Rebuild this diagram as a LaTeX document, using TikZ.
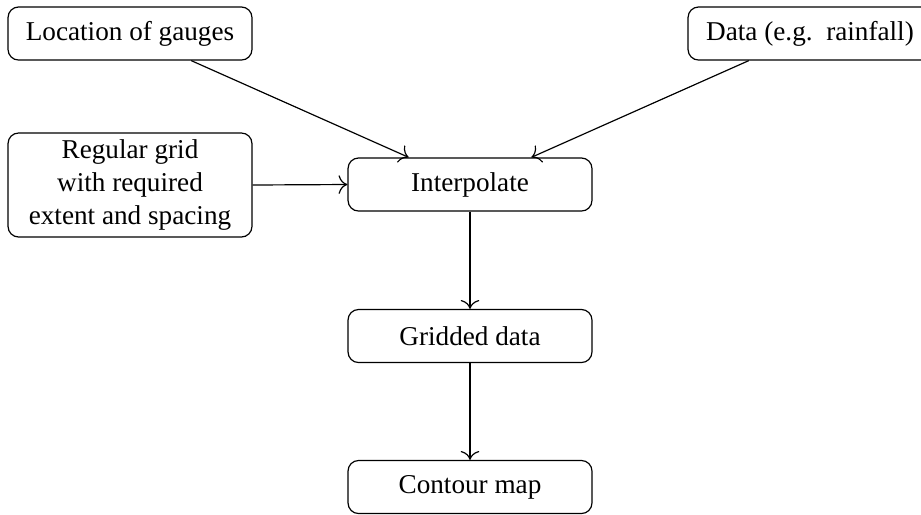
\documentclass[tikz,border=0pt]{standalone}
\usepackage{fontspec}
\setmainfont{Liberation Serif}
\usetikzlibrary{calc,arrows.meta}
\begin{document}
\begin{tikzpicture}[x=0.3788pt,y=-0.3788pt,
  box/.style={draw, line width=0.45pt, rounded corners=4pt, align=center, minimum width=92.4pt, minimum height=20.1pt, inner sep=2pt, font=\fontsize{10.3pt}{12.5pt}\selectfont},
  arr/.style={-{To[scale=1.3]}, line width=0.45pt}]
\useasboundingbox (0,0) rectangle (921,514);
\clip (0,0) rectangle (921,514);
\node[box] (loc) at (130,33.5) {Location of gauges};
\node[box] (data) at (810,33.5) {Data (e.g.\ \ rainfall)};
\node[box, minimum height=39.4pt] (grid) at (130,185) {Regular grid\\with required\\extent and spacing};
\node[box] (interp) at (470,184.5) {Interpolate};
\node[box] (gridded) at (470,336) {Gridded data};
\node[box] (contour) at (470,487) {Contour map};
\draw[arr] ($(loc.south)!0.5!(loc.south east)$) -- ($(interp.north)!0.5!(interp.north west)$);
\draw[arr] ($(data.south)!0.5!(data.south west)$) -- ($(interp.north)!0.5!(interp.north east)$);
\draw[arr] (grid.east) -- (interp.west);
\draw[arr] (interp.south) -- (gridded.north);
\draw[arr] (gridded.south) -- (contour.north);
\end{tikzpicture}
\end{document}
